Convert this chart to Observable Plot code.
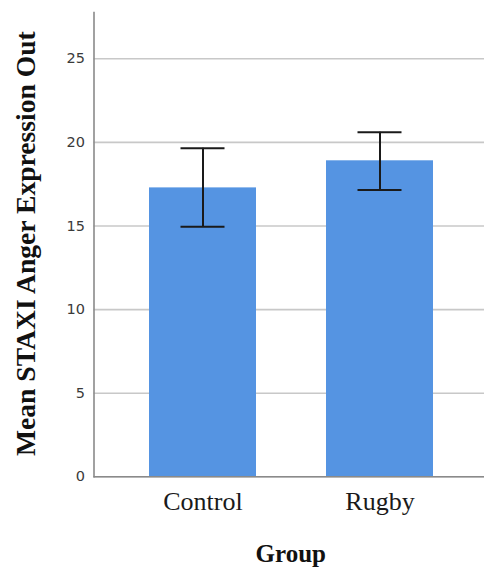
<!DOCTYPE html>
<html>
<head>
<meta charset="utf-8">
<script src="https://cdn.jsdelivr.net/npm/d3@7"></script>
<script src="https://cdn.jsdelivr.net/npm/@observablehq/plot@0.6"></script>
<style>
  html, body { margin: 0; padding: 0; background: #ffffff; overflow: hidden; }
  #chart svg { display: block; }
</style>
</head>
<body>
<div id="chart"></div>
<script>
// Group means of STAXI Anger Expression Out with error bars
const groups = ["Control", "Rugby"];
const means = [17.28, 18.90];
const lower = [14.95, 17.16];
const upper = [19.65, 20.61];
const yTicks = [0, 5, 10, 15, 20, 25];
const yTitle = "Mean STAXI Anger Expression Out";
const xTitle = "Group";

const data = groups.map((g, i) => ({group: g, mean: means[i], lower: lower[i], upper: upper[i]}));

const barColor = "#5594e2";
const errColor = "#1a1a1a";
const axisColor = "#8a8a8a";

const chart = Plot.plot({
  width: 484,
  height: 573,
  marginLeft: 93.5,
  marginRight: 0,
  marginTop: 12,
  marginBottom: 96.7,
  style: {background: "#ffffff"},
  x: {domain: groups, range: [93.5, 488], paddingInner: 0.398, paddingOuter: 0.31, axis: null},
  y: {domain: [0, 27.77], axis: null},
  marks: [
    Plot.gridY(yTicks, {stroke: "#c8c8c8", strokeOpacity: 1, strokeWidth: 1.6}),
    Plot.barY(data, {x: "group", y: "mean", fill: barColor}),
    Plot.ruleX(data, {x: "group", y1: "lower", y2: "upper", stroke: errColor, strokeWidth: 2}),
    Plot.tickY(data, {x: "group", y: "lower", stroke: errColor, strokeWidth: 2, inset: 31.5}),
    Plot.tickY(data, {x: "group", y: "upper", stroke: errColor, strokeWidth: 2, inset: 31.5}),
    Plot.ruleY([0], {stroke: axisColor, strokeWidth: 1.6}),
    Plot.frame({anchor: "left", stroke: axisColor, strokeWidth: 1.6}),
    Plot.axisY(yTicks, {tickSize: 0, tickPadding: 9, fontSize: 14.5, fontFamily: "DejaVu Sans", fill: "#3a3a3a", label: null}),
    Plot.axisX({tickSize: 0, tickPadding: 15, fontSize: 26, fontFamily: "Liberation Serif", fill: "#1a1a1a", label: null}),
    Plot.text([xTitle], {frameAnchor: "bottom", dx: 1.5, dy: 77, fontSize: 25, fontWeight: "bold", fontFamily: "Liberation Serif", fill: "#111111", lineAnchor: "middle"}),
    Plot.text([yTitle], {frameAnchor: "left", rotate: -90, dx: -68, dy: -1, fontSize: 27.6, fontWeight: "bold", fontFamily: "Liberation Serif", fill: "#111111", textAnchor: "middle", lineAnchor: "middle"})
  ]
});

document.getElementById("chart").appendChild(chart);
</script>
</body>
</html>
